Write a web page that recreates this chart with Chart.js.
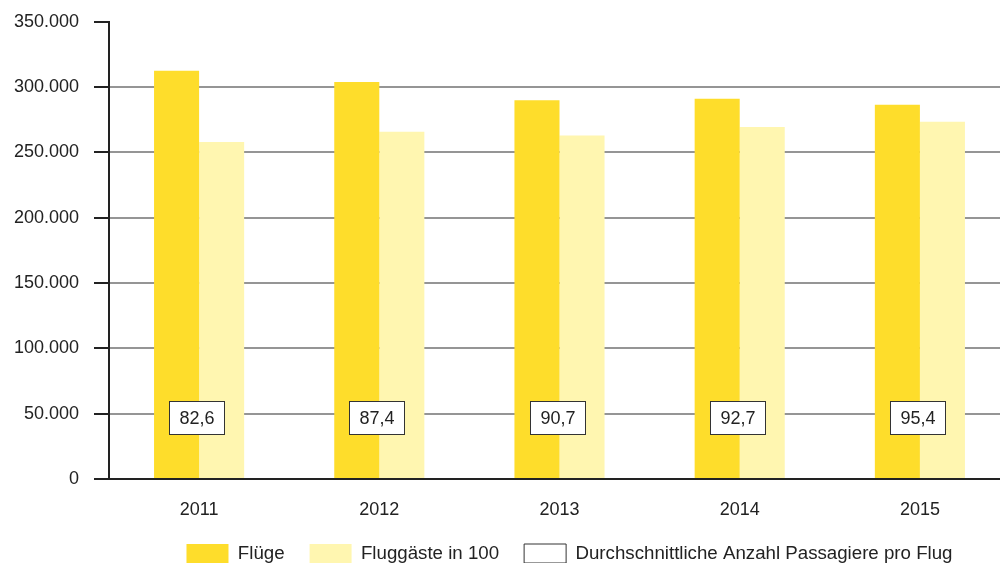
<!DOCTYPE html>
<html>
<head>
<meta charset="utf-8">
<script src="https://cdn.jsdelivr.net/npm/chart.js@4/dist/chart.umd.min.js"></script>
<style>
    html, body { margin: 0; padding: 0; background: #fff; overflow: hidden; }
    .wrap { width: 1010px; height: 577px; margin-top: -4px; }
</style>
</head>
<body>
<div class="wrap"><canvas id="chart"></canvas></div>
<script>
'use strict';

const YEARS = ['2011', '2012', '2013', '2014', '2015'];
const FLIGHTS = [312500, 304000, 290000, 291000, 286500];
const PASSENGERS = [258000, 265800, 263000, 269500, 273500];
const AVERAGES = ['82,6', '87,4', '90,7', '92,7', '95,4'];

const YELLOW = '#fedd2b';
const LIGHT = '#fff6b0';
const GRID = '#959595';
const DARK = '#222';
const FONT = '"Liberation Sans", Arial, Helvetica, sans-serif';

Chart.defaults.font.family = FONT;
Chart.defaults.color = '#222';

// thousands with a dot, the german way
let formatNumber = value => String(value).replace(/\B(?=(\d{3})+(?!\d))/g, '.');

// white boxes with the average passengers per flight
const averageBoxes = {
    id: 'averageBoxes',
    afterDatasetsDraw(chart) {
        let ctx = chart.ctx;
        let xScale = chart.scales.x;
        let y = chart.chartArea.bottom - 61;
        ctx.save();
        ctx.font = '18px ' + FONT;
        ctx.textAlign = 'center';
        ctx.textBaseline = 'middle';
        AVERAGES.forEach((label, i) => {
            let x = Math.round(xScale.getPixelForValue(i)) - 2;
            ctx.fillStyle = '#fff';
            ctx.fillRect(x - 28, y - 17, 56, 34);
            ctx.strokeStyle = '#333';
            ctx.lineWidth = 1;
            ctx.strokeRect(x - 27.5, y - 16.5, 55, 33);
            ctx.fillStyle = '#222';
            ctx.fillText(label, x, y + 1);
        });
        ctx.restore();
    }
};

// the legend sits a bit right of the plot centre
const legendShift = {
    id: 'legendShift',
    afterLayout(chart) {
        if (chart.legend) {
            chart.legend.left += 10;
            chart.legend.right += 10;
        }
    }
};

new Chart(document.getElementById('chart'), {
    type: 'bar',
    data: {
        labels: YEARS,
        datasets: [
            { label: 'Flüge', data: FLIGHTS, backgroundColor: YELLOW },
            { label: 'Fluggäste in 100', data: PASSENGERS, backgroundColor: LIGHT }
        ]
    },
    options: {
        responsive: true,
        maintainAspectRatio: false,
        animation: false,
        datasets: { bar: { categoryPercentage: 0.5, barPercentage: 1 } },
        layout: { padding: { top: -4, right: 0, left: 0, bottom: 0 } },
        plugins: {
            tooltip: { enabled: false },
            legend: {
                position: 'bottom',
                fullSize: false,
                labels: {
                    boxWidth: 42,
                    boxHeight: 19,
                    padding: 25,
                    font: { size: 18.7 },
                    color: '#222',
                    generateLabels(chart) {
                        let items = Chart.defaults.plugins.legend.labels.generateLabels(chart);
                        items.forEach(item => { item.lineWidth = 0; });
                        items.push({
                            text: 'Durchschnittliche Anzahl Passagiere pro Flug',
                            fillStyle: '#fff',
                            strokeStyle: '#333',
                            lineWidth: 1,
                            hidden: false,
                            datasetIndex: -1
                        });
                        return items;
                    }
                },
                onClick() {}
            }
        },
        scales: {
            x: {
                grid: { display: false },
                border: { display: true, color: DARK, width: 2 },
                ticks: { font: { size: 18 }, color: '#222', padding: 12 },
                afterFit: scale => { scale.height = 40; }
            },
            y: {
                min: 0,
                max: 350000,
                grid: {
                    color: c => c.tick.value === 350000 ? 'rgba(0,0,0,0)' : (c.tick.value === 0 ? DARK : GRID),
                    lineWidth: 2,
                    tickColor: DARK,
                    tickLength: 15
                },
                border: { display: true, color: DARK, width: 2 },
                ticks: {
                    stepSize: 50000,
                    font: { size: 18 },
                    color: '#222',
                    padding: 15,
                    callback: value => formatNumber(value)
                },
                afterFit: scale => { scale.width = 109; }
            }
        }
    },
    plugins: [averageBoxes, legendShift]
});
</script>
</body>
</html>
